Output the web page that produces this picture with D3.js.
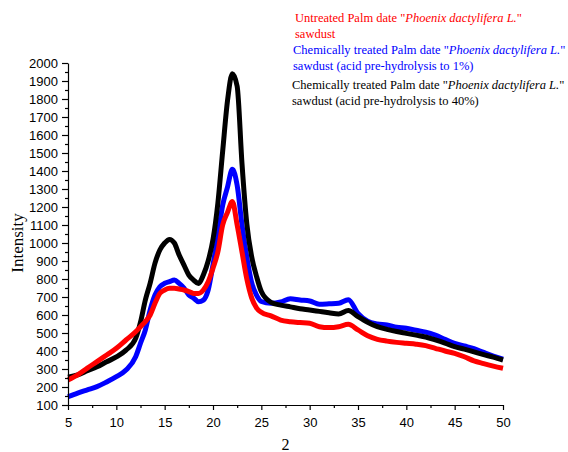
<!DOCTYPE html>
<html>
<head>
<meta charset="utf-8">
<script src="https://cdn.jsdelivr.net/npm/d3@7"></script>
<style>
  html, body { margin: 0; padding: 0; background: #fff; }
  svg { display: block; }
  .tick text { font-family: "Liberation Sans", Arial, sans-serif; font-size: 13px; fill: #000; }
  .axis-title, .legend-text { font-family: "Liberation Serif", "Times New Roman", serif; fill: #000; }
</style>
</head>
<body>
<div id="chart"></div>
<script>
// diffraction angle (2θ) positions where the traces were read
const angles = [5, 6, 7, 8, 9, 10, 11, 12, 12.5, 13, 13.5, 14, 14.5, 15, 15.5, 16, 16.5, 17, 17.5, 18,
  18.5, 19, 19.5, 20, 20.5, 21, 21.5, 22, 22.5, 23, 23.5, 24, 24.5, 25, 26, 27, 28, 29, 30, 31,
  32, 33, 34, 35, 36, 37, 38, 39, 40, 41, 42, 43, 44, 45, 46, 47, 48, 49, 50];

const untreated = [239, 267, 305, 341, 378, 415, 461, 507, 535, 563, 600, 665, 720, 739, 748, 748, 744, 739, 730, 720,
  720, 739, 785, 860, 950, 1100, 1170, 1230, 1100, 950, 800, 695, 640, 615, 595, 572, 563, 558, 554, 535,
  530, 535, 548, 517, 485, 465, 455, 448, 443, 438, 430, 415, 400, 387, 368, 345, 330, 316, 304];

const treated1 = [146, 166, 184, 202, 228, 257, 294, 368, 443, 517, 628, 711, 757, 776, 785, 794, 776, 750, 711, 694,
  674, 683, 739, 880, 1035, 1210, 1310, 1410, 1320, 1100, 920, 780, 710, 675, 665, 672, 690, 683, 678, 660,
  662, 665, 685, 609, 565, 550, 545, 532, 526, 515, 505, 488, 465, 443, 428, 413, 392, 372, 355];

const treated40 = [255, 268, 290, 312, 340, 367, 405, 470, 560, 683, 777, 888, 961, 1000, 1020, 1000, 933, 877, 822, 794,
  775, 822, 900, 1020, 1220, 1510, 1790, 1940, 1870, 1440, 1105, 924, 815, 730, 670, 655, 645, 635, 628, 620,
  612, 605, 625, 591, 560, 535, 520, 508, 498, 488, 478, 462, 444, 424, 410, 395, 380, 366, 350];

const xTicks = [5, 10, 15, 20, 25, 30, 35, 40, 45, 50];
const yTicks = [100, 200, 300, 400, 500, 600, 700, 800, 900, 1000, 1100, 1200, 1300, 1400, 1500, 1600, 1700, 1800, 1900, 2000];

const seriesList = [
  { name: "treated1", values: treated1, color: "#0000ff" },
  { name: "treated40", values: treated40, color: "#000000" },
  { name: "untreated", values: untreated, color: "#ff0000" },
];

const width = 568;
const height = 452;
const margin = { top: 63, right: 65, bottom: 47, left: 68 };

const svg = d3.select("#chart").append("svg")
  .attr("width", width).attr("height", height);

const x = d3.scaleLinear().domain([5, 50]).range([margin.left, width - margin.right]);
const y = d3.scaleLinear().domain([100, 2000]).range([height - margin.bottom, margin.top]);

// traces
const line = d3.line()
  .x((d) => x(d[0]))
  .y((d) => y(d[1]))
  .curve(d3.curveMonotoneX);

svg.append("g").selectAll("path")
  .data(seriesList)
  .join("path")
  .attr("fill", "none")
  .attr("stroke", (d) => d.color)
  .attr("stroke-width", 5)
  .attr("stroke-linejoin", "round")
  .attr("d", (d) => line(angles.map((a, i) => [a, d.values[i]])));

// axes
const xMinor = d3.range(7.5, 50, 5);
const yMinor = d3.range(150, 2000, 100);

svg.append("g")
  .attr("transform", `translate(0,${y(100)})`)
  .call(d3.axisBottom(x).tickValues(xMinor).tickSize(3).tickFormat(""))
  .call((g) => g.select(".domain").remove())
  .call((g) => g.selectAll("line").attr("stroke-width", 1.2));

svg.append("g")
  .attr("transform", `translate(0,${y(100)})`)
  .call(d3.axisBottom(x).tickValues(xTicks).tickSize(5).tickSizeOuter(0).tickPadding(8).tickFormat(d3.format("d")))
  .call((g) => g.selectAll("line, path").attr("stroke-width", 1.2));

svg.append("g")
  .attr("transform", `translate(${x(5)},0)`)
  .call(d3.axisLeft(y).tickValues(yMinor).tickSize(3).tickFormat(""))
  .call((g) => g.select(".domain").remove())
  .call((g) => g.selectAll("line").attr("stroke-width", 1.2));

svg.append("g")
  .attr("transform", `translate(${x(5)},0)`)
  .call(d3.axisLeft(y).tickValues(yTicks).tickSize(6).tickSizeOuter(0).tickPadding(4).tickFormat(d3.format("d")))
  .call((g) => g.selectAll("line, path").attr("stroke-width", 1.2));

svg.append("text").attr("class", "axis-title")
  .attr("x", (x(5) + x(50)) / 2).attr("y", 449.5)
  .attr("text-anchor", "middle")
  .attr("font-size", 16)
  .text("2");

svg.append("text").attr("class", "axis-title")
  .attr("transform", `translate(23,${243}) rotate(-90)`)
  .attr("text-anchor", "middle")
  .attr("font-size", 17)
  .text("Intensity");

// legend
const legendLines = [
  { x: 295, y: 22, color: "#ff0000", parts: [["Untreated Palm date \"", false], ["Phoenix dactylifera L.", true], ["\"", false]] },
  { x: 295, y: 37.5, color: "#ff0000", parts: [["sawdust", false]] },
  { x: 293, y: 54, color: "#0000ff", parts: [["Chemically treated Palm date \"", false], ["Phoenix dactylifera L.", true], ["\"", false]] },
  { x: 293, y: 70, color: "#0000ff", parts: [["sawdust (acid pre-hydrolysis to 1%)", false]] },
  { x: 292, y: 89, color: "#000000", parts: [["Chemically treated Palm date \"", false], ["Phoenix dactylifera L.", true], ["\"", false]] },
  { x: 292, y: 104.5, color: "#000000", parts: [["sawdust (acid pre-hydrolysis to 40%)", false]] },
];

legendLines.forEach((l) => {
  const t = svg.append("text").attr("class", "legend-text")
    .attr("x", l.x).attr("y", l.y)
    .attr("font-size", 12.5)
    .style("fill", l.color);
  l.parts.forEach(([s, it]) => {
    t.append("tspan").attr("font-style", it ? "italic" : "normal").text(s);
  });
});
</script>
</body>
</html>
